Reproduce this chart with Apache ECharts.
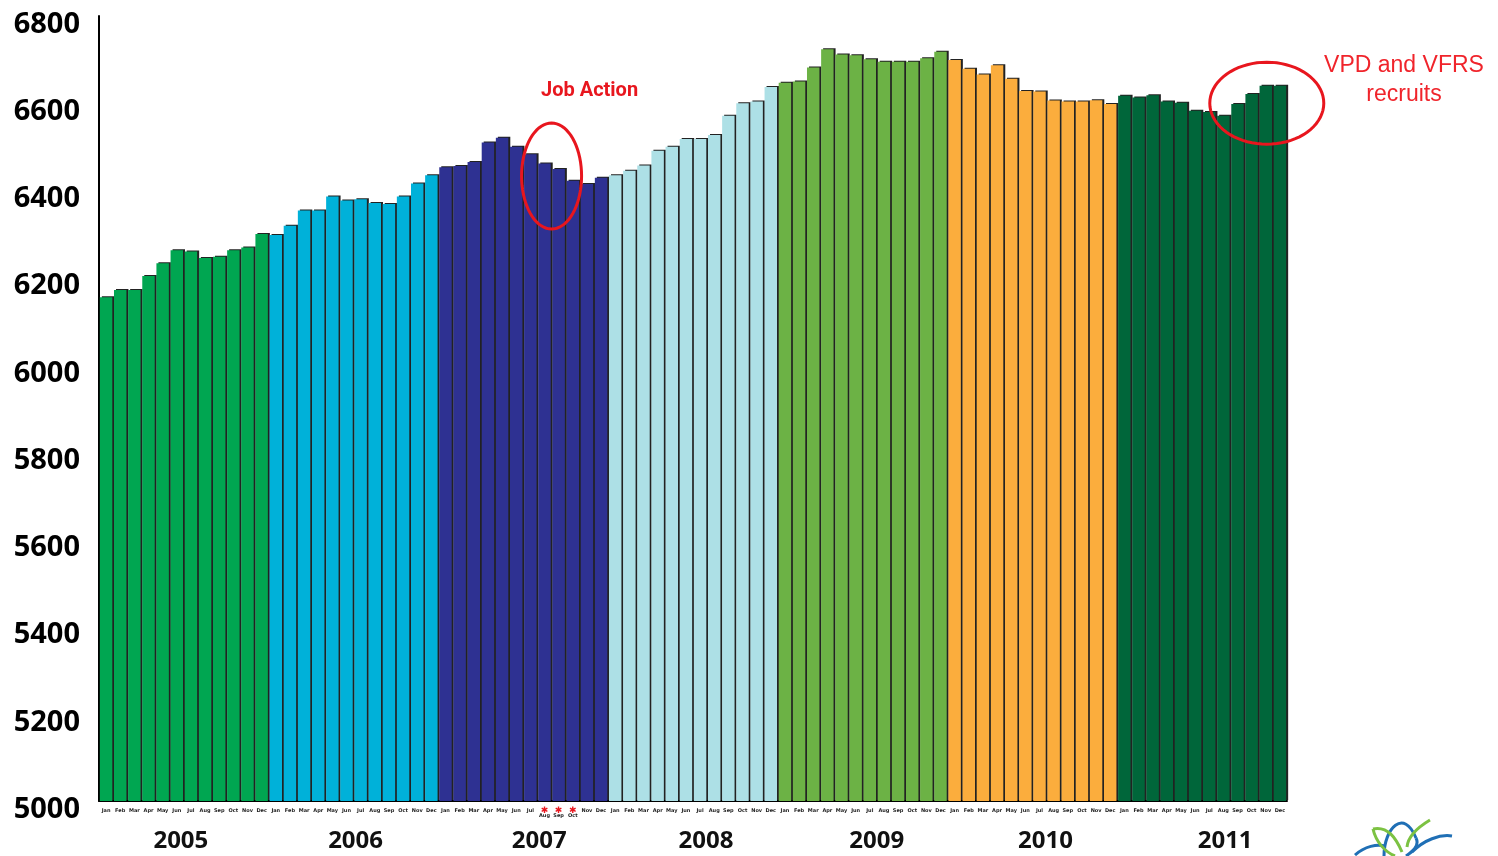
<!DOCTYPE html>
<html>
<head>
<meta charset="utf-8">
<title>Staff count by month, 2005–2011</title>
<script src="https://cdn.jsdelivr.net/npm/echarts@6/dist/echarts.min.js"></script>
<style>
  html, body { margin: 0; padding: 0; background: #ffffff; }
  #chart { width: 1498px; height: 856px; }
</style>
</head>
<body>
<div id="chart"></div>
<script>
// Month and year labels
const months = ['Jan', 'Feb', 'Mar', 'Apr', 'May', 'Jun', 'Jul', 'Aug', 'Sep', 'Oct', 'Nov', 'Dec'];
const years = ['2005', '2006', '2007', '2008', '2009', '2010', '2011'];
const yTicks = [5000, 5200, 5400, 5600, 5800, 6000, 6200, 6400, 6600, 6800];

// Monthly head count, one array per year
const count2005 = [6155, 6172, 6172, 6204, 6233, 6263, 6260, 6245, 6248, 6263, 6269, 6300];
const count2006 = [6298, 6319, 6354, 6354, 6386, 6377, 6380, 6371, 6369, 6386, 6416, 6435];
const count2007 = [6453, 6456, 6465, 6510, 6521, 6500, 6483, 6462, 6449, 6422, 6415, 6429];
const count2008 = [6435, 6445, 6457, 6491, 6500, 6518, 6518, 6527, 6571, 6600, 6604, 6637];
const count2009 = [6647, 6650, 6682, 6724, 6712, 6710, 6701, 6695, 6695, 6695, 6703, 6718];
const count2010 = [6699, 6679, 6666, 6687, 6656, 6628, 6627, 6606, 6604, 6604, 6607, 6598];
const count2011 = [6617, 6613, 6618, 6604, 6601, 6583, 6580, 6571, 6598, 6621, 6640, 6640];

// Months affected by job action (2007: Aug, Sep, Oct)
const jobActionYear = '2007';
const jobActionMonths = ['Aug', 'Sep', 'Oct'];

const yearlyCounts = [count2005, count2006, count2007, count2008, count2009, count2010, count2011];
const yearColors = ['#00a651', '#00b1d9', '#2e3192', '#ade0e6', '#6cb245', '#fbad3d', '#00663a'];

const categories = [];
const barData = [];
const starIndex = new Set();
years.forEach((yr, yi) => {
  months.forEach((m, mi) => {
    if (yr === jobActionYear && jobActionMonths.indexOf(m) >= 0) starIndex.add(categories.length);
    categories.push(m + ' ' + yr);
    barData.push({ value: yearlyCounts[yi][mi], itemStyle: { color: yearColors[yi] } });
  });
});

// Horizontal nudges (px) for the year captions
const yearShift = [-3, 2, 16, 13, 14, 13, 23];
const yearRich = {};
yearShift.forEach((s, i) => {
  yearRich['y' + i] = {
    fontSize: 24, fontWeight: 'bold', fontFamily: 'Open Sans', color: '#111',
    padding: s >= 0 ? [0, 0, 0, 2 * s] : [0, -2 * s, 0, 0]
  };
});

const chart = echarts.init(document.getElementById('chart'), null, { renderer: 'canvas' });

chart.setOption({
  animation: false,
  backgroundColor: '#ffffff',
  grid: { left: 99, right: 211, top: 16, bottom: 55, containLabel: false },
  xAxis: [
    {
      type: 'category',
      data: categories,
      boundaryGap: true,
      axisLine: { show: true, lineStyle: { color: '#000', width: 2 } },
      axisTick: { show: false },
      axisLabel: {
        interval: 0,
        margin: 7,
        fontSize: 5,
        fontWeight: 'bold',
        fontFamily: 'DejaVu Sans',
        color: '#222',
        formatter: (val, idx) => {
          const m = val.split(' ')[0];
          return starIndex.has(idx) ? '{s|✱}\n{m|' + m + '}' : '{m|' + m + '}';
        },
        rich: {
          s: { color: '#e8161e', fontSize: 9, lineHeight: 5, fontWeight: 'bold' },
          m: { fontSize: 5, lineHeight: 6, fontWeight: 'bold', color: '#222' }
        }
      },
      splitLine: { show: false }
    },
    {
      type: 'category',
      data: years,
      position: 'bottom',
      offset: 20,
      axisLine: { show: false },
      axisTick: { show: false },
      axisLabel: {
        interval: 0,
        margin: 8,
        formatter: (val, idx) => '{y' + idx + '|' + val + '}',
        rich: yearRich
      },
      splitLine: { show: false }
    }
  ],
  yAxis: {
    type: 'value',
    min: yTicks[0],
    max: yTicks[yTicks.length - 1],
    interval: 200,
    axisLine: { show: true, lineStyle: { color: '#000', width: 2 } },
    axisTick: { show: false },
    splitLine: { show: false },
    axisLabel: {
      margin: 19,
      fontSize: 29,
      fontWeight: 'bold',
      fontFamily: 'Open Sans',
      color: '#000',
      verticalAlign: 'top',
      lineHeight: 17,
      formatter: (v) => String(v)
    }
  },
  series: [
    {
      type: 'bar',
      data: barData,
      barCategoryGap: '12%',
      itemStyle: {
        borderWidth: 0,
        shadowColor: 'rgba(10,10,10,0.9)',
        shadowBlur: 0,
        shadowOffsetX: 2,
        shadowOffsetY: -1
      }
    }
  ]
});

// Ellipse outline as a closed polygon around a pixel centre
function ellipsePoints(cx, cy, rx, ry) {
  const pts = [];
  const n = 72;
  for (let i = 0; i < n; i++) {
    const t = (i / n) * Math.PI * 2;
    pts.push([cx + rx * Math.cos(t), cy + ry * Math.sin(t)]);
  }
  return pts;
}

const toPx = (idx, val) => chart.convertToPixel({ xAxisIndex: 0, yAxisIndex: 0 }, [idx, val]);
const firstStar = Math.min.apply(null, Array.from(starIndex));
const a = toPx(firstStar, 6433);
const b = toPx(firstStar + 1, 6433);
const jobCentre = [(a[0] + b[0]) / 2, a[1]];
const recruitCentre = toPx(categories.length - 2, 6600);

const red = '#e8161e';
chart.setOption({
  graphic: [
    {
      type: 'polygon',
      shape: { points: ellipsePoints(jobCentre[0], jobCentre[1], 30, 53) },
      style: { fill: 'none', stroke: red, lineWidth: 3 },
      z: 100
    },
    {
      type: 'text',
      x: jobCentre[0] + 38,
      y: jobCentre[1] - 85,
      style: {
        text: 'Job Action',
        fill: red,
        font: 'bold 20px Roboto',
        textAlign: 'center',
        textVerticalAlign: 'middle'
      },
      z: 100
    },
    {
      type: 'polygon',
      shape: { points: ellipsePoints(recruitCentre[0] + 1, recruitCentre[1], 57, 41) },
      style: { fill: 'none', stroke: red, lineWidth: 3 },
      z: 100
    },
    {
      type: 'text',
      x: 1404,
      y: 80,
      style: {
        text: 'VPD and VFRS\nrecruits',
        fill: '#f0242b',
        font: '23px "Liberation Sans"',
        lineHeight: 29,
        textAlign: 'center',
        textVerticalAlign: 'middle'
      },
      z: 100
    },
    // corner logo: blue swooshes and green leaves
    {
      type: 'group',
      z: 90,
      children: [
        { type: 'bezierCurve', shape: { x1: 1355, y1: 855, x2: 1385, y2: 846, cpx1: 1365, cpy1: 846, cpx2: 1377, cpy2: 844 },
          style: { stroke: '#1f6fb5', lineWidth: 3, fill: 'none' } },
        { type: 'bezierCurve', shape: { x1: 1384, y1: 856, x2: 1416, y2: 838, cpx1: 1384, cpy1: 828, cpx2: 1404, cpy2: 808 },
          style: { stroke: '#1f6fb5', lineWidth: 3, fill: 'none' } },
        { type: 'bezierCurve', shape: { x1: 1416, y1: 838, x2: 1406, y2: 856, cpx1: 1420, cpy1: 846, cpx2: 1412, cpy2: 852 },
          style: { stroke: '#1f6fb5', lineWidth: 3, fill: 'none' } },
        { type: 'bezierCurve', shape: { x1: 1412, y1: 852, x2: 1452, y2: 836, cpx1: 1424, cpy1: 840, cpx2: 1440, cpy2: 834 },
          style: { stroke: '#1f6fb5', lineWidth: 3, fill: 'none' } },
        { type: 'bezierCurve', shape: { x1: 1373, y1: 829, x2: 1402, y2: 852, cpx1: 1388, cpy1: 826, cpx2: 1396, cpy2: 838 },
          style: { stroke: '#7cc242', lineWidth: 3, fill: 'none' } },
        { type: 'bezierCurve', shape: { x1: 1373, y1: 829, x2: 1395, y2: 856, cpx1: 1376, cpy1: 842, cpx2: 1385, cpy2: 852 },
          style: { stroke: '#7cc242', lineWidth: 3, fill: 'none' } },
        { type: 'bezierCurve', shape: { x1: 1430, y1: 820, x2: 1407, y2: 847, cpx1: 1420, cpy1: 826, cpx2: 1408, cpy2: 836 },
          style: { stroke: '#7cc242', lineWidth: 3, fill: 'none' } }
      ]
    }
  ]
});
</script>
</body>
</html>
